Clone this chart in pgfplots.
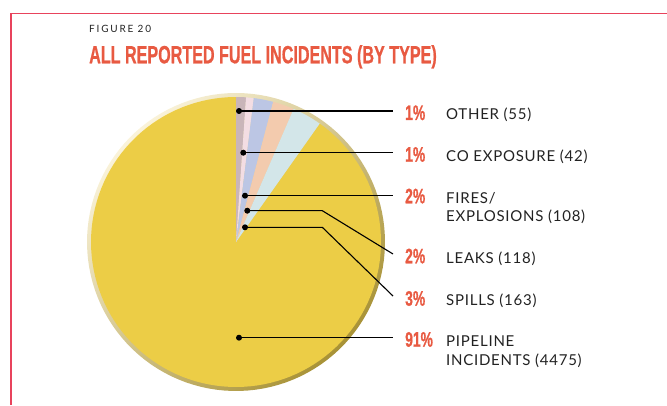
\documentclass[border=0pt]{standalone}
\usepackage{pgfplots}
\pgfplotsset{compat=1.18}
\usepackage{fontspec}
\setmainfont{Lato}
\newfontfamily\pctfont{Liberation Sans}[FakeStretch=0.66,FakeBold=0.8]
\newfontfamily\titlefont{Liberation Sans}[FakeStretch=0.645,FakeBold=0.6]
\newfontfamily\figfont{Lato}[LetterSpace=18]
\newfontfamily\labfont{Lato}[LetterSpace=5]
\definecolor{framered}{HTML}{E8435C}
\definecolor{titlered}{HTML}{E85A42}
\definecolor{pieyellow}{HTML}{ECCD46}
\definecolor{cOther}{HTML}{C9B5B9}
\definecolor{cCO}{HTML}{F3DDE3}
\definecolor{cFires}{HTML}{BCC6E4}
\definecolor{cLeaks}{HTML}{F3CBAE}
\definecolor{cSpills}{HTML}{D3E6E9}
\definecolor{rimdark}{HTML}{A89236}
\definecolor{rimlight}{HTML}{FAF3DA}
\definecolor{txt}{HTML}{222222}
\begin{document}
\begin{tikzpicture}
\useasboundingbox (0,0) rectangle (667pt,405pt);
% counts
\def\nOther{55}\def\nCO{42}\def\nFires{108}\def\nLeaks{118}\def\nSpills{163}\def\nPipe{4475}
\pgfmathsetmacro\tot{\nOther+\nCO+\nFires+\nLeaks+\nSpills+\nPipe}
\pgfmathsetmacro\aA{\nOther/\tot*360}
\pgfmathsetmacro\aB{\aA+\nCO/\tot*360}
\pgfmathsetmacro\aC{\aB+\nFires/\tot*360}
\pgfmathsetmacro\aD{\aC+\nLeaks/\tot*360}
\pgfmathsetmacro\aE{\aD+\nSpills/\tot*360}
\def\cx{236}\def\cy{163}\def\R{145}
\begin{axis}[hide axis, x=1pt, y=1pt, xmin=0, xmax=667, ymin=0, ymax=405,
  anchor=origin, at={(0pt,0pt)}, clip=false]
% rim of the pie
\addplot[draw=none, shading=axis, top color=rimlight, middle color=pieyellow, bottom color=rimdark, shading angle=45,
  domain=0:360, samples=120, variable=\t] ({\cx+149*sin(\t)},{\cy+149*cos(\t)}) -- cycle;
% slices
\addplot[draw=none, fill=pieyellow, domain=\aE:360, samples=120, variable=\t]
  ({\cx+\R*sin(\t)},{\cy+\R*cos(\t)}) -- (axis cs:\cx,\cy) -- cycle;
\addplot[draw=none, fill=cOther, domain=0:\aA, samples=6, variable=\t]
  ({\cx+\R*sin(\t)},{\cy+\R*cos(\t)}) -- (axis cs:\cx,\cy) -- cycle;
\addplot[draw=none, fill=cCO, domain=\aA:\aB, samples=6, variable=\t]
  ({\cx+\R*sin(\t)},{\cy+\R*cos(\t)}) -- (axis cs:\cx,\cy) -- cycle;
\addplot[draw=none, fill=cFires, domain=\aB:\aC, samples=8, variable=\t]
  ({\cx+\R*sin(\t)},{\cy+\R*cos(\t)}) -- (axis cs:\cx,\cy) -- cycle;
\addplot[draw=none, fill=cLeaks, domain=\aC:\aD, samples=8, variable=\t]
  ({\cx+\R*sin(\t)},{\cy+\R*cos(\t)}) -- (axis cs:\cx,\cy) -- cycle;
\addplot[draw=none, fill=cSpills, domain=\aD:\aE, samples=10, variable=\t]
  ({\cx+\R*sin(\t)},{\cy+\R*cos(\t)}) -- (axis cs:\cx,\cy) -- cycle;
% leader lines
\addplot[black, line width=1.1pt, mark=*, mark size=2.4pt, mark indices={1}] coordinates {(239,294) (393,294)};
\addplot[black, line width=1.1pt, mark=*, mark size=2.4pt, mark indices={1}] coordinates {(243.3,252.3) (393,252.3)};
\addplot[black, line width=1.1pt, mark=*, mark size=2.4pt, mark indices={1}] coordinates {(245,209.3) (393,209.3)};
\addplot[black, line width=1.1pt, mark=*, mark size=2.4pt, mark indices={1}] coordinates {(247.3,194.3) (322.3,194.3) (393,151)};
\addplot[black, line width=1.1pt, mark=*, mark size=2.4pt, mark indices={1}] coordinates {(245,177.7) (322.3,177.7) (393,109)};
\addplot[black, line width=1.1pt, mark=*, mark size=2.4pt, mark indices={1}] coordinates {(239,67.3) (393,67.3)};
\end{axis}
% frame
\draw[framered, line width=1.5pt] (667pt,391.7pt) -- (11pt,391.7pt) -- (11pt,0pt);
% titles
\node[anchor=base west, inner sep=0pt, text=txt] at (89pt,372.7pt) {\figfont\fontsize{10}{10}\selectfont FIGURE 20};
\node[anchor=base west, inner sep=0pt, text=titlered] at (89pt,341.7pt) {\titlefont\bfseries\fontsize{25}{25}\selectfont ALL REPORTED FUEL INCIDENTS (BY TYPE)};
% percentages
\foreach \p/\yy in {1\%/285, 1\%/243.3, 2\%/201.7, 2\%/141.7, 3\%/99.3, 91\%/58.3}{
  \node[anchor=base west, inner sep=0pt, text=titlered] at (405pt,\yy pt) {\pctfont\bfseries\fontsize{21}{21}\selectfont \p};
}
% labels
\foreach \l/\yy in {OTHER (55)/285, CO EXPOSURE (42)/243.3, {FIRES/}/201.7, EXPLOSIONS (108)/183.3, LEAKS (118)/141.7, SPILLS (163)/99.3, PIPELINE/58.3, INCIDENTS (4475)/40}{
  \node[anchor=base west, inner sep=0pt, text=txt] at (446pt,\yy pt) {\labfont\fontsize{15}{18}\selectfont \l};
}
\end{tikzpicture}
\end{document}
